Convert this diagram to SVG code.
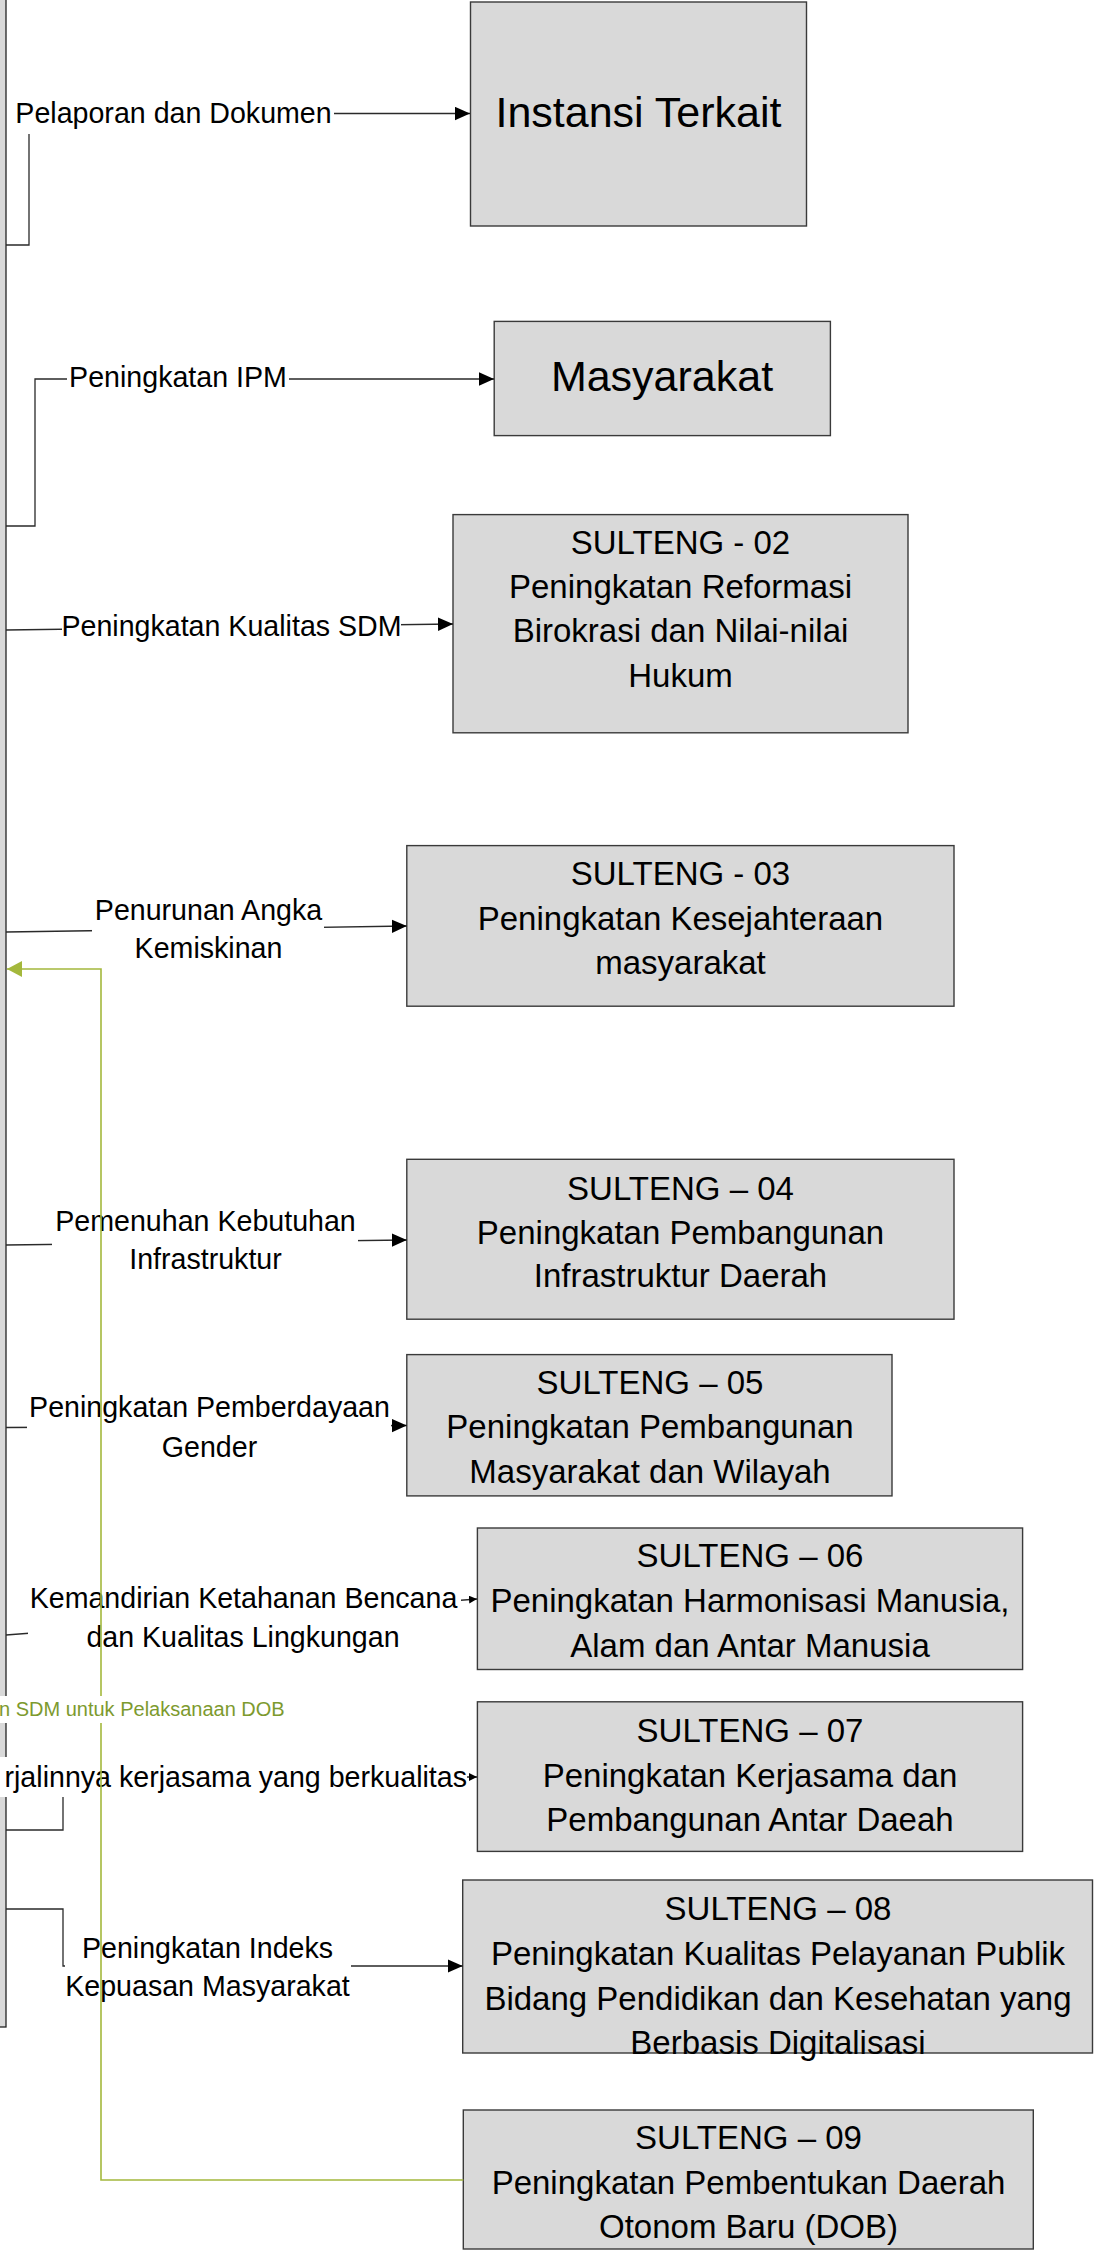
<svg xmlns="http://www.w3.org/2000/svg" width="1096" height="2250" viewBox="0 0 1096 2250">
<defs>
<style>
.box{fill:#d9d9d9;stroke:#3a3a3a;stroke-width:1.4}
.bt{font-family:"Liberation Sans",Arial,sans-serif;font-size:33px;fill:#000;text-anchor:middle}
.big{font-size:43px}
.lbl{font-family:"Liberation Sans",Arial,sans-serif;font-size:28.6px;fill:#000;text-anchor:middle}
.bg{fill:#fff}
.con{fill:none;stroke:#2a2a2a;stroke-width:1.3}
.grn{fill:none;stroke:#a4b83c;stroke-width:1.6}
.gl{font-family:"Liberation Sans",Arial,sans-serif;font-size:20px;fill:#7d9a2e}
</style>
<marker id="ah" markerUnits="userSpaceOnUse" markerWidth="15" markerHeight="14" refX="15" refY="7" orient="auto"><path d="M0,0.3 L15,7 L0,13.7z" fill="#000"/></marker>
<marker id="ahs" markerUnits="userSpaceOnUse" markerWidth="8" markerHeight="8" refX="8" refY="4" orient="auto"><path d="M0,0 L8,4 L0,8z" fill="#000"/></marker>
<marker id="ahg" markerUnits="userSpaceOnUse" markerWidth="16" markerHeight="16" refX="15" refY="8" orient="auto"><path d="M0,0 L15,8 L0,16z" fill="#a4b83c"/></marker>
</defs>
<rect width="1096" height="2250" fill="#fff"/>
<g id="frame"><rect x="-10" y="-10" width="16" height="2037" fill="#d9d9d9" stroke="#222" stroke-width="1.3"/></g>

<g id="instansi"><rect class="box" x="470.5" y="2" width="336" height="224"/><text class="bt big" x="638.5" y="127">Instansi Terkait</text></g>
<g id="masyarakat"><rect class="box" x="494.2" y="321.4" width="336.2" height="114.2"/><text class="bt big" x="662" y="391">Masyarakat</text></g>
<g id="sulteng02"><rect class="box" x="453" y="514.6" width="455" height="218.2"/>
<text class="bt" x="680.5" y="554">SULTENG - 02</text><text class="bt" x="680.5" y="598">Peningkatan Reformasi</text><text class="bt" x="680.5" y="642">Birokrasi dan Nilai-nilai</text><text class="bt" x="680.5" y="687">Hukum</text></g>
<g id="sulteng03"><rect class="box" x="406.8" y="845.6" width="547.2" height="160.6"/>
<text class="bt" x="680.5" y="885">SULTENG - 03</text><text class="bt" x="680.5" y="930">Peningkatan Kesejahteraan</text><text class="bt" x="680.5" y="974">masyarakat</text></g>
<g id="sulteng04"><rect class="box" x="406.8" y="1159.3" width="547.2" height="159.9"/>
<text class="bt" x="680.5" y="1200">SULTENG – 04</text><text class="bt" x="680.5" y="1244">Peningkatan Pembangunan</text><text class="bt" x="680.5" y="1287">Infrastruktur Daerah</text></g>
<g id="sulteng05"><rect class="box" x="406.8" y="1354.6" width="485.2" height="141.3"/>
<text class="bt" x="650" y="1394">SULTENG – 05</text><text class="bt" x="650" y="1438">Peningkatan Pembangunan</text><text class="bt" x="650" y="1483">Masyarakat dan Wilayah</text></g>
<g id="sulteng06"><rect class="box" x="477.4" y="1528" width="545.2" height="141.5"/>
<text class="bt" x="750" y="1567">SULTENG – 06</text><text class="bt" x="750" y="1612">Peningkatan Harmonisasi Manusia,</text><text class="bt" x="750" y="1657">Alam dan Antar Manusia</text></g>
<g id="sulteng07"><rect class="box" x="477.4" y="1701.8" width="545.2" height="149.6"/>
<text class="bt" x="750" y="1742">SULTENG – 07</text><text class="bt" x="750" y="1787">Peningkatan Kerjasama dan</text><text class="bt" x="750" y="1831">Pembangunan Antar Daeah</text></g>
<g id="sulteng08"><rect class="box" x="462.7" y="1880" width="629.8" height="173"/>
<text class="bt" x="778" y="1920">SULTENG – 08</text><text class="bt" x="778" y="1965">Peningkatan Kualitas Pelayanan Publik</text><text class="bt" x="778" y="2010">Bidang Pendidikan dan Kesehatan yang</text><text class="bt" x="778" y="2054">Berbasis Digitalisasi</text></g>
<g id="sulteng09"><rect class="box" x="463.3" y="2110" width="570" height="139"/>
<text class="bt" x="748.5" y="2149">SULTENG – 09</text><text class="bt" x="748.5" y="2194">Peningkatan Pembentukan Daerah</text><text class="bt" x="748.5" y="2238">Otonom Baru (DOB)</text></g>

<g id="connectors">
<path class="con" d="M6,245 H29 V113.5 H470" marker-end="url(#ah)"/>
<path class="con" d="M6,526 H35 V379 H494" marker-end="url(#ah)"/>
<path class="con" d="M6,630 L453,624" marker-end="url(#ah)"/>
<path class="con" d="M6,932 L406.8,926" marker-end="url(#ah)"/>
<path class="con" d="M6,1245 L406.8,1240" marker-end="url(#ah)"/>
<path class="con" d="M6,1427.5 L406.8,1425.5" marker-end="url(#ah)"/>
<path class="con" d="M6,1635 L477,1599" marker-end="url(#ahs)"/>
<path class="con" d="M6,1830 H63 V1777 H477" marker-end="url(#ahs)"/>
<path class="con" d="M6,1909 H63 V1966 H462.7" marker-end="url(#ah)"/>

<g id="lbl-pelaporan"><rect class="bg" x="13" y="102" width="321" height="32"/><text class="lbl" x="173.5" y="123">Pelaporan dan Dokumen</text></g>
<g id="lbl-ipm"><rect class="bg" x="67" y="364" width="222" height="32"/><text class="lbl" x="178" y="387">Peningkatan IPM</text></g>
<g id="lbl-sdm"><rect class="bg" x="62" y="612" width="339" height="33"/><text class="lbl" x="231.5" y="636">Peningkatan Kualitas SDM</text></g>
<g id="lbl-kemiskinan"><rect class="bg" x="92" y="897" width="232" height="70"/><text class="lbl" x="208.5" y="920">Penurunan Angka</text><text class="lbl" x="208.5" y="958">Kemiskinan</text></g>
<g id="lbl-infra"><rect class="bg" x="52" y="1208" width="306" height="70"/><text class="lbl" x="205.5" y="1231">Pemenuhan Kebutuhan</text><text class="lbl" x="205.5" y="1269">Infrastruktur</text></g>
<g id="lbl-gender"><rect class="bg" x="27" y="1394" width="364" height="72"/><text class="lbl" x="209.5" y="1417">Peningkatan Pemberdayaan</text><text class="lbl" x="209.5" y="1457">Gender</text></g>
<g id="lbl-bencana"><rect class="bg" x="28" y="1585" width="433" height="71"/><text class="lbl" x="243.5" y="1608">Kemandirian Ketahanan Bencana</text><text class="lbl" x="243" y="1647">dan Kualitas Lingkungan</text></g>
<g id="lbl-kerjasama"><rect class="bg" x="-5" y="1757" width="472" height="40"/><text class="lbl" x="467" y="1787" style="text-anchor:end">rjalinnya kerjasama yang berkualitas</text></g>
<g id="lbl-indeks"><rect class="bg" x="65" y="1935" width="286" height="70"/><text class="lbl" x="207.5" y="1958">Peningkatan Indeks</text><text class="lbl" x="207.5" y="1996">Kepuasan Masyarakat</text></g>

<path class="grn" d="M463.3,2180 H101 V969 H7" marker-end="url(#ahg)"/>
<g id="lbl-dob"><rect class="bg" x="-5" y="1696" width="296" height="27"/><text class="gl" x="-1" y="1716">n SDM untuk Pelaksanaan DOB</text></g>
</g>
</svg>
